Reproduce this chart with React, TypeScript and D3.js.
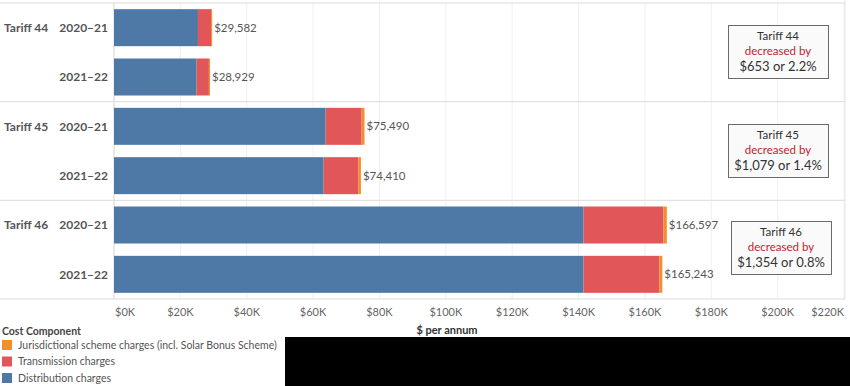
import React from "react";
import * as d3 from "d3";

const tariffs = ["Tariff 44", "Tariff 45", "Tariff 46"];
const years = ["2020–21", "2021–22"];
// per tariff, per year
const distribution = [
  [25300, 24900],
  [63780, 63180],
  [141520, 141500],
];
const transmission = [
  [3950, 3700],
  [10850, 10420],
  [24080, 22900],
];
const totals = [
  [29582, 28929],
  [75490, 74410],
  [166597, 165243],
];
const changeAmount = ["$653", "$1,079", "$1,354"];
const changePct = ["2.2%", "1.4%", "0.8%"];
const ticks = [0, 20000, 40000, 60000, 80000, 100000, 120000, 140000, 160000, 180000, 200000, 220000];
const legendItems = [
  "Jurisdictional scheme charges (incl. Solar Bonus Scheme)",
  "Transmission charges",
  "Distribution charges",
];
const colors = ["#f28e2b", "#e15759", "#4e79a7"];

const W = 850;
const H = 386;
const left = 114;
const top = 3;
const bottom = 299;
const FONT = "Lato, 'Open Sans', sans-serif";

export default function App() {
  const x = d3.scaleLinear().domain([0, 220000]).range([left, left + 730]);
  const rows: { t: number; y: number; label: string }[] = [];
  tariffs.forEach((_, ti) => years.forEach((yr, yi) => rows.push({ t: ti, y: yi, label: yr })));
  const yBand = d3
    .scaleBand<number>()
    .domain(d3.range(rows.length))
    .range([top, bottom])
    .paddingInner(0.25)
    .paddingOuter(0.125);
  const groupH = (bottom - top) / tariffs.length;

  const boxes = [
    { x: 728, y: 25 },
    { x: 728, y: 124 },
    { x: 731, y: 221 },
  ];

  return (
    <svg width={W} height={H} style={{ position: "absolute", left: 0, top: 0, display: "block" }}>
      <rect x={0} y={0} width={W} height={H} fill="#fff" />
      {/* vertical gridlines */}
      {ticks.map((t) => (
        <line key={"g" + t} x1={x(t)} x2={x(t)} y1={top} y2={bottom} stroke="#f0f0f0" strokeWidth={1} />
      ))}
      {/* horizontal separators */}
      {d3.range(tariffs.length + 1).map((i) => (
        <line
          key={"s" + i}
          x1={0}
          x2={845}
          y1={top + i * groupH}
          y2={top + i * groupH}
          stroke="#dcdcdc"
          strokeWidth={1}
        />
      ))}
      <line x1={left} x2={left} y1={top} y2={bottom} stroke="#dcdcdc" />
      <line x1={845} x2={845} y1={0} y2={bottom} stroke="#e4e4e4" />

      {/* bars */}
      {rows.map((r, i) => {
        const y0 = yBand(i)!;
        const h = yBand.bandwidth();
        const d = distribution[r.t][r.y];
        const tr = transmission[r.t][r.y];
        const tot = totals[r.t][r.y];
        return (
          <g key={"b" + i}>
            <rect x={x(0)} y={y0} width={x(d) - x(0)} height={h} fill={colors[2]} />
            <rect x={x(d)} y={y0} width={x(d + tr) - x(d)} height={h} fill={colors[1]} />
            <rect x={x(d + tr)} y={y0} width={x(tot) - x(d + tr)} height={h} fill={colors[0]} />
            <text
              x={x(tot) + 2}
              y={y0 + h / 2}
              dy="0.35em"
              fontSize={11.5}
              fill="#555"
              fontFamily={FONT}
            >
              {"$" + d3.format(",")(tot)}
            </text>
            <text
              x={108}
              y={y0 + h / 2}
              dy="0.35em"
              textAnchor="end"
              fontSize={12}
              fontWeight="bold"
              fill="#555"
              fontFamily={FONT}
            >
              {r.label}
            </text>
            {r.y === 0 && (
              <text
                x={4}
                y={y0 + h / 2}
                dy="0.35em"
                fontSize={12}
                fontWeight="bold"
                fill="#555"
                fontFamily={FONT}
              >
                {tariffs[r.t]}
              </text>
            )}
          </g>
        );
      })}

      {/* annotation boxes */}
      {boxes.map((b, i) => (
        <g key={"a" + i}>
          <rect x={b.x + 0.5} y={b.y + 0.5} width={100} height={53} fill="#fafafa" stroke="#6a6a6a" strokeWidth={1} />
          <text x={b.x + 50} y={b.y + 15} textAnchor="middle" fontSize={11.5} fill="#333" fontFamily={FONT}>
            {tariffs[i]}
          </text>
          <text x={b.x + 50} y={b.y + 30} textAnchor="middle" fontSize={11.5} fill="#c8202d" fontFamily={FONT}>
            decreased by
          </text>
          <text x={b.x + 50} y={b.y + 46} textAnchor="middle" fontSize={13} fill="#333" fontFamily={FONT}>
            {changeAmount[i] + " or " + changePct[i]}
          </text>
        </g>
      ))}

      {/* x axis ticks */}
      {ticks.map((t, i) => (
        <text
          key={"t" + t}
          x={i === 0 ? x(t) + 1 : i === ticks.length - 1 ? 844 : x(t)}
          y={312}
          dy="0.35em"
          textAnchor={i === 0 ? "start" : i === ticks.length - 1 ? "end" : "middle"}
          fontSize={11}
          fill="#666"
          fontFamily={FONT}
        >
          {"$" + t / 1000 + "K"}
        </text>
      ))}
      <text x={447} y={330} dy="0.35em" textAnchor="middle" fontSize={11} fontWeight="bold" fill="#333" fontFamily={FONT}>
        $ per annum
      </text>

      {/* legend */}
      <text x={2} y={331} dy="0.35em" fontSize={10.5} fontWeight="bold" fill="#444" fontFamily={FONT}>
        Cost Component
      </text>
      {legendItems.map((l, i) => (
        <g key={"l" + i}>
          <rect x={2} y={340 + i * 16.5} width={10} height={10} fill={colors[i]} />
          <text x={18} y={345 + i * 16.5} dy="0.35em" fontSize={10.5} fill="#555" fontFamily={FONT}>
            {l}
          </text>
        </g>
      ))}
      <rect x={285} y={337} width={W - 285} height={H - 337} fill="#000" />
    </svg>
  );
}
